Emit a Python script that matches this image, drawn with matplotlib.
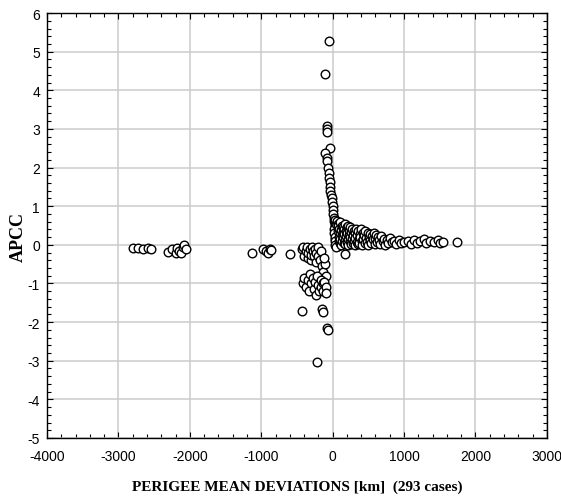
import numpy as np
import matplotlib.pyplot as plt
from matplotlib.ticker import MultipleLocator

plt.rcParams['axes.unicode_minus'] = False

# far left groups
left_x = [-2800, -2730, -2660, -2590, -2540,
          -2300, -2250, -2200, -2180, -2150, -2120, -2100, -2080, -2050,
          -1130, -980, -940, -900, -880, -860, -600]
left_y = [-0.08, -0.08, -0.1, -0.08, -0.12,
          -0.18, -0.1, -0.22, -0.08, -0.15, -0.2, -0.05, 0.0, -0.1,
          -0.2, -0.1, -0.15, -0.2, -0.1, -0.14, -0.23]

# negative cluster near zero
neg_x = [-430, -410, -400, -380, -360, -350, -340, -320, -310, -300, -290, -280,
         -260, -250, -240, -230, -210, -200, -180, -170, -150, -130, -110, -100, -120,
         -420, -400, -380, -350, -330, -320, -300, -280, -260, -250, -230, -220,
         -200, -190, -170, -160, -140, -130, -120, -100, -90,
         -430, -150, -130, -80, -65, -220]
neg_y = [-0.1, -0.05, -0.3, -0.15, -0.05, -0.35, -0.2, -0.1, -0.4, -0.25, -0.05, -0.15,
         -0.3, -0.1, -0.45, -0.2, -0.05, -0.3, -0.4, -0.15, -0.55, -0.7, -0.5, -0.8, -0.35,
         -1.0, -0.85, -1.1, -0.9, -1.2, -0.75, -1.0, -0.85, -1.15, -0.95, -1.3, -0.8,
         -1.05, -1.2, -0.9, -1.1, -1.0, -1.2, -0.95, -1.1, -1.25,
         -1.72, -1.65, -1.75, -2.15, -2.2, -3.03]

# spike and curve
spike_x = [-55, -110, -85, -80, -85, -40, -110, -85, -80, -60, -55, -45, -40, -35,
           -30, -20, -15, -10, 0, 5, 10, 15, 20, 30, 35, 40, 45, 50, 40, 60, 70, 80,
           20, 25, 30, 35, 40, 50, 30, 45, 170]
spike_y = [5.28, 4.42, 3.08, 3.0, 2.92, 2.5, 2.38, 2.25, 2.18, 2.0, 1.85, 1.72, 1.62, 1.5,
           1.4, 1.3, 1.2, 1.1, 1.0, 0.9, 0.8, 0.7, 0.62, 0.55, 0.48, 0.4, 0.3, 0.22, 0.15,
           0.08, 0.02, -0.02, 0.4, 0.3, 0.2, 0.1, 0.0, -0.05, 0.65, 0.55, -0.23]

# decaying band to the right
band_x = [60, 70, 75, 80, 85, 90, 95, 100, 100, 105, 110, 115, 120, 125, 130, 135, 140,
          145, 150, 155, 160, 165, 170, 175, 180, 185, 190, 195, 200, 205, 210, 215,
          220, 225, 230, 240, 245, 250, 255, 260, 270, 275, 280, 290, 295, 300, 310,
          315, 320, 330, 335, 345, 350, 360, 365, 375, 380, 390, 400, 405, 415, 420,
          430, 440, 450, 460, 470, 480, 490, 500, 510, 520, 530, 540, 555, 565, 575,
          590, 600, 610, 625, 640, 655, 670, 680, 700, 720, 740, 760, 780, 800, 830,
          860, 890, 930, 960, 1000, 1060, 1100, 1140, 1180, 1230, 1280, 1310, 1360,
          1420, 1470, 1500, 1540, 1736]
band_y = [0.62, 0.55, 0.35, 0.48, 0.2, 0.1, 0.42, 0.3, 0.05, 0.58, 0.15, 0.38, 0.0,
          0.25, 0.5, 0.1, 0.33, 0.45, 0.2, 0.05, 0.4, 0.28, 0.12, 0.55, 0.02, 0.35,
          0.22, 0.45, 0.08, 0.3, 0.15, 0.5, 0.0, 0.25, 0.38, 0.1, 0.45, 0.2, 0.03,
          0.32, 0.15, 0.42, 0.05, 0.25, 0.35, 0.1, 0.0, 0.3, 0.18, 0.4, 0.08, 0.25,
          0.02, 0.35, 0.15, 0.05, 0.28, 0.2, 0.42, 0.1, 0.0, 0.3, 0.15, 0.25, 0.05,
          0.35, 0.18, 0.08, 0.3, 0.0, 0.2, 0.12, 0.28, 0.05, 0.22, 0.15, 0.3, 0.02,
          0.18, 0.25, 0.08, 0.2, 0.12, 0.03, 0.22, 0.1, 0.15, 0.0, 0.12, 0.05, 0.18,
          0.08, 0.1, 0.03, 0.12, 0.05, 0.08, 0.1, 0.03, 0.12, 0.06, 0.1, 0.15, 0.05,
          0.1, 0.08, 0.12, 0.05, 0.08, 0.08]

x = left_x + neg_x + spike_x + band_x
y = left_y + neg_y + spike_y + band_y

fig = plt.figure(figsize=(5.61, 5.02), dpi=100)
ax = fig.add_axes([0.0838, 0.1255, 0.891, 0.8465])

ax.plot(x, y, 'o', markersize=6.2, markerfacecolor='white',
        markeredgecolor='black', markeredgewidth=1.0, linestyle='none')

ax.set_xlim(-4000, 3000)
ax.set_ylim(-5, 6)
ax.xaxis.set_major_locator(MultipleLocator(1000))
ax.xaxis.set_minor_locator(MultipleLocator(200))
ax.yaxis.set_major_locator(MultipleLocator(1))
ax.yaxis.set_minor_locator(MultipleLocator(0.2))
ax.grid(True, which='major', color='#cccccc', linewidth=1.1)
ax.set_axisbelow(True)

ax.tick_params(which='both', direction='in', top=True, right=True, width=0.8)
ax.tick_params(which='major', length=4)
ax.tick_params(which='minor', length=3)
ax.tick_params(axis='x', which='major', pad=8)
ax.tick_params(axis='y', which='major', pad=5)
for lab in ax.get_xticklabels() + ax.get_yticklabels():
    lab.set_family('Liberation Sans')
    lab.set_fontsize(10)

for s in ax.spines.values():
    s.set_linewidth(1.0)

ax.set_xlabel('PERIGEE MEAN DEVIATIONS [km]  (293 cases)', family='Liberation Serif',
              fontweight='bold', fontsize=11)
ax.set_ylabel('APCC', family='Liberation Serif', fontweight='bold', fontsize=13)
ax.xaxis.set_label_coords(0.5, -0.097)
ax.yaxis.set_label_coords(-0.058, 0.475)
ax.yaxis.label.set_va('center')

fig.savefig('out.png', dpi=100)
